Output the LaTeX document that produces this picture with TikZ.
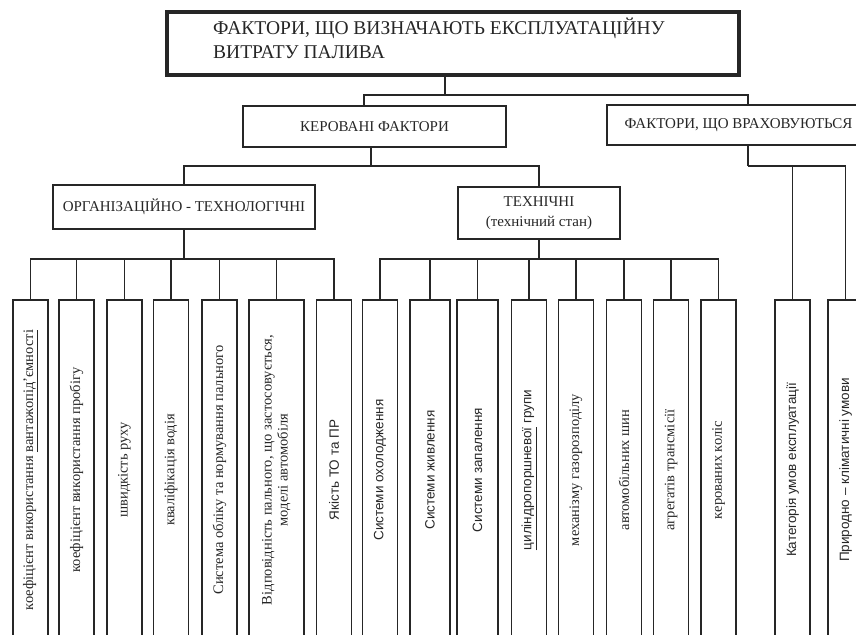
\documentclass[tikz,border=0pt]{standalone}
\usepackage{fontspec}
\setmainfont{Liberation Serif}
\setsansfont{Liberation Sans}
\begin{document}
\begin{tikzpicture}[x=1pt,y=-1pt,
  box/.style={draw=black!85, line width=1.6pt, inner sep=0pt, align=center, text=black!85},
  midbox/.style={box, font=\fontsize{15}{20}\selectfont},
  leaf/.style={box, minimum width=35pt, minimum height=340pt},
  serif/.style={font=\fontsize{14.5}{16}\selectfont},
  sans/.style={font=\sffamily\fontsize{13.5}{16}\selectfont},
  conn/.style={draw=black!85, line width=1.4pt}]
\useasboundingbox (0,0) rectangle (856,634);
\clip (0,0) rectangle (856,634);

% top
\node[box, line width=4pt, minimum width=572pt, minimum height=63pt] (top) at (453,43.5) {};
\node[anchor=base west, align=left, inner sep=0pt, text=black!85, font=\fontsize{19.5}{24}\selectfont] (toptitle) at (213,59)
  {ФАКТОРИ, ЩО ВИЗНАЧАЮТЬ ЕКСПЛУАТАЦІЙНУ\\ВИТРАТУ ПАЛИВА};

% level 2
\node[midbox, minimum width=263pt, minimum height=41pt] (ker) at (374.5,126.5) {КЕРОВАНІ ФАКТОРИ};
\node[midbox, minimum width=263pt, minimum height=40pt] (vrah) at (738.5,125) {ФАКТОРИ, ЩО ВРАХОВУЮТЬСЯ};

% level 3
\node[midbox, minimum width=262pt, minimum height=44pt] (org) at (184,207) {ОРГАНІЗАЦІЙНО - ТЕХНОЛОГІЧНІ};
\node[midbox, minimum width=162pt, minimum height=52pt] (tech) at (539,213) {ТЕХНІЧНІ\\(технічний стан)};

% leaves
\node[leaf, serif] (l1) at (30.5,470) {\rotatebox{90}{коефіцієнт використання \underline{вантажопід'ємності}}};
\node[leaf, serif] (l2) at (76.5,470) {\rotatebox{90}{коефіцієнт використання пробігу}};
\node[leaf, serif] (l3) at (124.5,470) {\rotatebox{90}{швидкість руху}};
\node[leaf, serif] (l4) at (171,470) {\rotatebox{90}{кваліфікація водія}};
\node[leaf, serif] (l5) at (219.5,470) {\rotatebox{90}{Система обліку та нормування пального}};
\node[leaf, serif, minimum width=55pt] (l6) at (276.5,470) {\rotatebox{90}{\begin{tabular}{@{}c@{}}Відповідність пального, що застосовується,\\моделі автомобіля\end{tabular}}};
\node[leaf, sans] (l7) at (334,470) {\rotatebox{90}{Якість ТО та ПР}};
\node[leaf, sans] (l8) at (380,470) {\rotatebox{90}{Системи охолодження}};
\node[leaf, sans, minimum width=40pt] (l9) at (430,470) {\rotatebox{90}{Системи живлення}};
\node[leaf, sans, minimum width=41pt] (l10) at (477.5,470) {\rotatebox{90}{Системи запалення}};
\node[leaf, sans] (l11) at (529,470) {\rotatebox{90}{\underline{циліндропоршневої} групи}};
\node[leaf, serif] (l12) at (576,470) {\rotatebox{90}{механізму газорозподілу}};
\node[leaf, serif] (l13) at (624,470) {\rotatebox{90}{автомобільних шин}};
\node[leaf, serif] (l14) at (671,470) {\rotatebox{90}{агрегатів трансмісії}};
\node[leaf, serif] (l15) at (718.5,470) {\rotatebox{90}{керованих коліс}};
\node[leaf, sans] (l16) at (792.5,470) {\rotatebox{90}{Категорія умов експлуатації}};
\node[leaf, sans] (l17) at (845.5,470) {\rotatebox{90}{Природно – кліматичні умови}};

% connectors
\coordinate (b0) at (445,95);
\draw[conn] ([xshift=-8pt]top.south) -- (b0);
\draw[conn] (b0) -| ([xshift=-10.5pt]ker.north);
\draw[conn] (b0) -| ([xshift=9.5pt]vrah.north);

\coordinate (b1) at (371,166);
\draw[conn] ([xshift=-3.5pt]ker.south) -- (b1);
\draw[conn] (b1) -| (org.north);
\draw[conn] (b1) -| (tech.north);

\coordinate (b2) at (184,259);
\draw[conn] (org.south) -- (b2);
\foreach \i in {1,...,7} {\draw[conn] (b2) -| (l\i.north);}

\coordinate (b3) at (539,259);
\draw[conn] (tech.south) -- (b3);
\foreach \i in {8,...,15} {\draw[conn] (b3) -| (l\i.north);}

\coordinate (b4) at (748,166);
\draw[conn] ([xshift=9.5pt]vrah.south) -- (b4);
\draw[conn] (b4) -| (l16.north);
\draw[conn] (b4) -| (l17.north);
\end{tikzpicture}
\end{document}
